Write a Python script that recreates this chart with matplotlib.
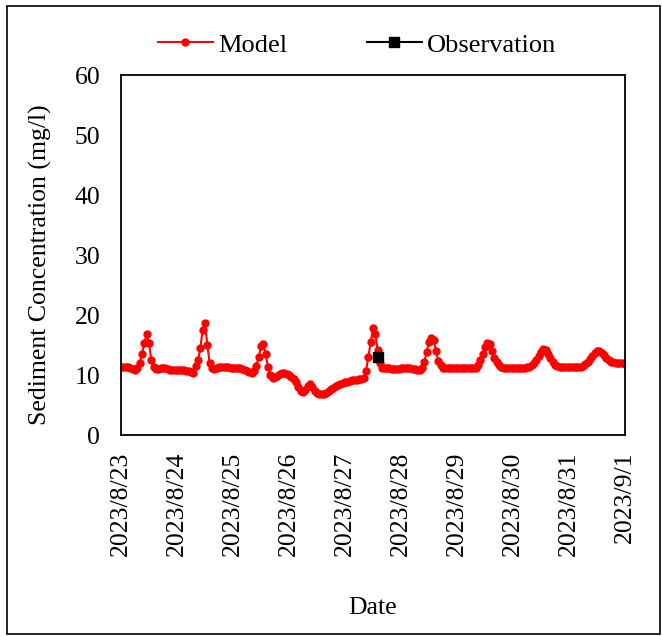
import matplotlib
matplotlib.use("Agg")
import matplotlib.pyplot as plt
import numpy as np
import pandas as pd
from matplotlib.patches import Rectangle

plt.rcParams['font.family'] = ['Liberation Serif', 'DejaVu Serif']

# Hourly modelled sediment concentration (mg/l), 2023/8/23 00:00 ... 2023/9/1 00:00
day_0823 = [11.4, 11.4, 11.3, 11.3, 11.2, 11.0, 10.9, 11.1, 12.0, 13.5, 15.3, 16.8,
            15.3, 12.5, 11.3, 11.0, 11.0, 11.1, 11.2, 11.1, 11.0, 10.9, 10.9, 10.8]
day_0824 = [10.8, 10.8, 10.8, 10.8, 10.7, 10.7, 10.5, 10.4, 11.5, 12.5, 14.5, 17.5,
            18.7, 15.0, 12.0, 11.1, 11.0, 11.2, 11.3, 11.3, 11.3, 11.3, 11.3, 11.2]
day_0825 = [11.2, 11.2, 11.1, 11.1, 11.0, 10.9, 10.7, 10.5, 10.4, 10.7, 11.5, 13.0,
            14.8, 15.2, 13.5, 11.3, 10.0, 9.5, 9.6, 9.9, 10.2, 10.4, 10.4, 10.2]
day_0826 = [10.0, 9.7, 9.4, 8.9, 8.0, 7.3, 7.1, 7.5, 8.2, 8.5, 8.0, 7.3,
            7.0, 6.9, 6.9, 6.9, 7.0, 7.3, 7.6, 7.9, 8.1, 8.3, 8.5, 8.7]
day_0827 = [8.8, 8.9, 9.0, 9.1, 9.2, 9.2, 9.3, 9.3, 9.5, 10.7, 13.0, 15.5,
            17.9, 16.8, 14.2, 12.0, 11.2, 11.1, 11.1, 11.1, 11.0, 11.0, 11.0, 11.0]
day_0828 = [11.1, 11.1, 11.1, 11.1, 11.1, 11.0, 11.0, 10.9, 10.8, 11.2, 12.2, 13.8,
            15.5, 16.1, 15.8, 14.0, 12.4, 11.6, 11.2, 11.1, 11.1, 11.1, 11.1, 11.1]
day_0829 = [11.1, 11.1, 11.1, 11.1, 11.1, 11.1, 11.1, 11.1, 11.1, 11.6, 12.5, 13.5,
            14.6, 15.3, 15.2, 14.0, 12.9, 12.1, 11.6, 11.3, 11.2, 11.2, 11.2, 11.2]
day_0830 = [11.2, 11.2, 11.2, 11.2, 11.2, 11.2, 11.3, 11.4, 11.7, 12.0, 12.5, 13.2,
            13.9, 14.3, 14.1, 13.5, 12.9, 12.2, 11.7, 11.5, 11.3, 11.3, 11.3, 11.3]
day_0831 = [11.3, 11.3, 11.3, 11.3, 11.4, 11.4, 11.5, 11.8, 12.2, 12.7, 13.2, 13.7,
            14.0, 14.0, 13.7, 13.3, 12.9, 12.5, 12.2, 12.1, 12.0, 12.0, 12.0, 12.0]
day_0901 = [11.9]

model_values = (day_0823 + day_0824 + day_0825 + day_0826 + day_0827 +
                day_0828 + day_0829 + day_0830 + day_0831 + day_0901)
model_start = "2023-08-23 00:00"

obs_times = ["2023-08-27 14:00"]
obs_values = [13.0]

tick_dates = ["2023-08-23", "2023-08-24", "2023-08-25", "2023-08-26", "2023-08-27",
              "2023-08-28", "2023-08-29", "2023-08-30", "2023-08-31", "2023-09-01"]
tick_labels = ["2023/8/23", "2023/8/24", "2023/8/25", "2023/8/26", "2023/8/27",
               "2023/8/28", "2023/8/29", "2023/8/30", "2023/8/31", "2023/9/1"]
y_ticks = [0, 10, 20, 30, 40, 50, 60]

model_times = pd.date_range(model_start, periods=len(model_values), freq="h")

fig = plt.figure(figsize=(6.62, 6.36), dpi=100)
ax = fig.add_axes([121/662, 1-435/636, (625-121)/662, (435-75)/636])

ax.plot(model_times, model_values, color="#FF0000", lw=1.5, marker="o",
        markersize=5, label="Model", zorder=2)
ax.plot(pd.to_datetime(obs_times), obs_values, color="black", lw=1.5, marker="s",
        markersize=7, label="Observation", zorder=3)

ax.set_xlim(pd.Timestamp(tick_dates[0]), pd.Timestamp(tick_dates[-1]))
ax.set_ylim(0, 60)
ax.set_yticks(y_ticks)
ax.set_xticks(pd.to_datetime(tick_dates))
ax.set_xticklabels(tick_labels, rotation=90)
ax.tick_params(axis="both", length=0, labelsize=18.5, colors="black")
ax.tick_params(axis="x", pad=12)
ax.tick_params(axis="y", pad=15)
for sp in ax.spines.values():
    sp.set_linewidth(1.3)
    sp.set_color("black")

ax.set_ylabel("Sediment Concentration (mg/l)", fontsize=18.5)
ax.yaxis.set_label_coords(-(121-40)/504, (435-265)/360)
ax.yaxis.label.set_verticalalignment("center")
ax.set_xlabel("Date", fontsize=18.5)
ax.xaxis.set_label_coords(0.5, -(608-435)/360)
ax.xaxis.label.set_verticalalignment("center")

leg = ax.legend(loc="center", bbox_to_anchor=((357-121)/504, 1 + (75-45)/360), ncol=2,
                frameon=False, fontsize=19, handlelength=2.1, columnspacing=3.0,
                handletextpad=0.2, borderaxespad=0)

fig.patches.append(Rectangle((7/662, 1-634/636), (660-7)/662, (634-6)/636,
                             transform=fig.transFigure, fill=False,
                             edgecolor="black", lw=1.2))

fig.savefig("out.png", dpi=100)
